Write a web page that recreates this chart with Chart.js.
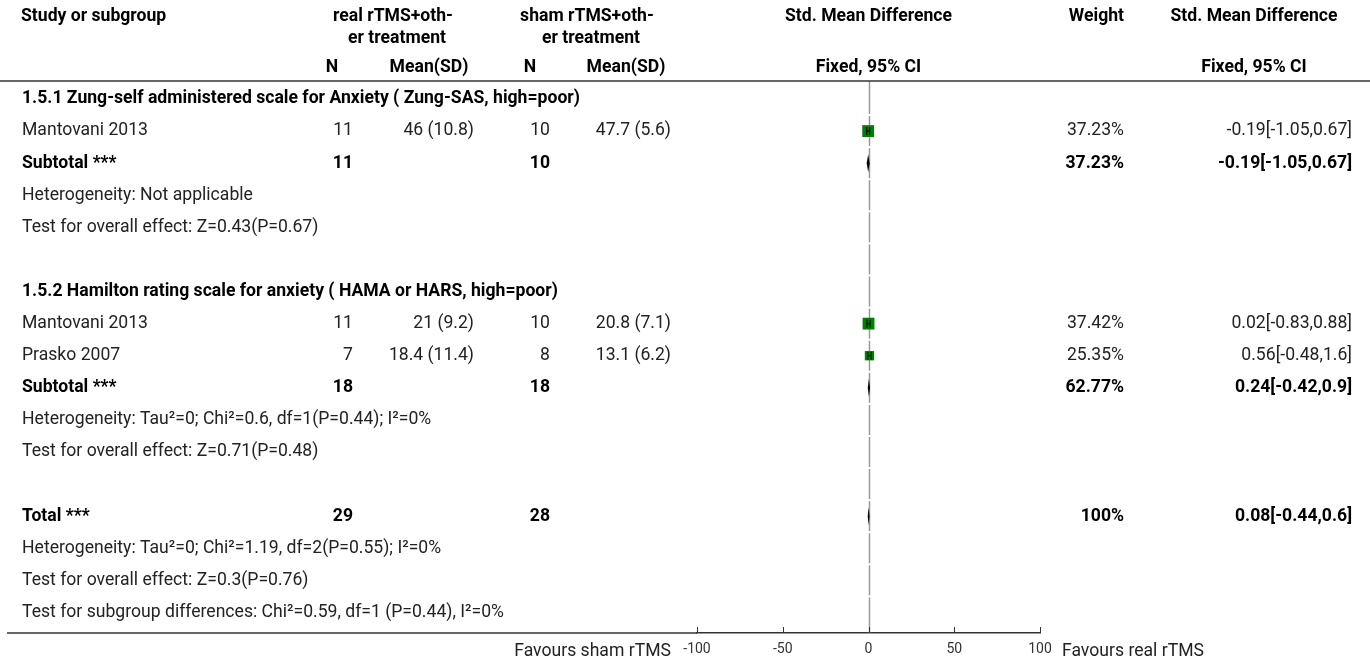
<!DOCTYPE html>
<html>
<head>
<meta charset="utf-8">
<script src="https://cdn.jsdelivr.net/npm/chart.js@4/dist/chart.umd.min.js"></script>
<style>
  html, body { margin: 0; padding: 0; background: #fff; }
  #forest { display: block; }
</style>
</head>
<body>
<canvas id="forest" width="1370" height="664"></canvas>
<script>
// 表格每一列 (row order, top to bottom)
var rowLabels = [
  "1.5.1 Zung-self administered scale for Anxiety ( Zung-SAS, high=poor)",
  "Mantovani 2013",
  "Subtotal ***",
  "Heterogeneity: Not applicable",
  "Test for overall effect: Z=0.43(P=0.67)",
  "",
  "1.5.2 Hamilton rating scale for anxiety ( HAMA or HARS, high=poor)",
  "Mantovani 2013",
  "Prasko 2007",
  "Subtotal ***",
  "Heterogeneity: Tau\u00b2=0; Chi\u00b2=0.6, df=1(P=0.44); I\u00b2=0%",
  "Test for overall effect: Z=0.71(P=0.48)",
  "",
  "Total ***",
  "Heterogeneity: Tau\u00b2=0; Chi\u00b2=1.19, df=2(P=0.55); I\u00b2=0%",
  "Test for overall effect: Z=0.3(P=0.76)",
  "Test for subgroup differences: Chi\u00b2=0.59, df=1 (P=0.44), I\u00b2=0%"
];
var rowKinds = ["group", "study", "sub", "note", "note", "blank",
  "group", "study", "study", "sub", "note", "note", "blank",
  "sub", "note", "note", "note"];

var nReal    = [null, 11, 11, null, null, null, null, 11, 7, 18, null, null, null, 29, null, null, null];
var meanReal = [null, 46, null, null, null, null, null, 21, 18.4, null, null, null, null, null, null, null, null];
var sdReal   = [null, 10.8, null, null, null, null, null, 9.2, 11.4, null, null, null, null, null, null, null, null];
var nSham    = [null, 10, 10, null, null, null, null, 10, 8, 18, null, null, null, 28, null, null, null];
var meanSham = [null, 47.7, null, null, null, null, null, 20.8, 13.1, null, null, null, null, null, null, null, null];
var sdSham   = [null, 5.6, null, null, null, null, null, 7.1, 6.2, null, null, null, null, null, null, null, null];
var weights  = [null, 37.23, 37.23, null, null, null, null, 37.42, 25.35, 62.77, null, null, null, 100, null, null, null];
var smd      = [null, -0.19, -0.19, null, null, null, null, 0.02, 0.56, 0.24, null, null, null, 0.08, null, null, null];
var ciLow    = [null, -1.05, -1.05, null, null, null, null, -0.83, -0.48, -0.42, null, null, null, -0.44, null, null, null];
var ciHigh   = [null, 0.67, 0.67, null, null, null, null, 0.88, 1.6, 0.9, null, null, null, 0.6, null, null, null];

var xTicks = [-100, -50, 0, 50, 100];

var FONT = "Roboto";
var SIZE = 17.6;
var studyPoints = [];
rowKinds.forEach(function (k, i) {
  if (k === "study") studyPoints.push({ x: smd[i], y: i, w: weights[i] });
});

function txt(ctx, s, x, y, align, bold) {
  ctx.font = (bold ? "bold " : "") + SIZE + "px " + FONT;
  ctx.textAlign = align;
  ctx.textBaseline = "middle";
  ctx.fillStyle = bold ? "#000" : "#222";
  ctx.fillText(s, x, y);
}

var forestPlugin = {
  id: "forest",
  beforeDatasetsDraw: function (chart) {
    var ctx = chart.ctx, xs = chart.scales.x, ys = chart.scales.y, a = chart.chartArea;
    var x0 = Math.round(xs.getPixelForValue(0)) + 0.5;
    ctx.save();
    ctx.strokeStyle = "#9a9a9a";
    ctx.lineWidth = 1.5;
    for (var i = 0; i < rowLabels.length; i++) {
      var t = i === 0 ? a.top : ys.getPixelForValue(i - 0.5) + 1;
      var b = i === rowLabels.length - 1 ? a.bottom : ys.getPixelForValue(i + 0.5) - 1;
      ctx.beginPath(); ctx.moveTo(x0, t); ctx.lineTo(x0, b); ctx.stroke();
    }
    ctx.restore();
  },
  afterDatasetsDraw: function (chart) {
    var ctx = chart.ctx, xs = chart.scales.x, ys = chart.scales.y;
    ctx.save();
    rowKinds.forEach(function (k, i) {
      var y = ys.getPixelForValue(i);
      var lo = xs.getPixelForValue(ciLow[i]), hi = xs.getPixelForValue(ciHigh[i]);
      if (k === "study") {
        ctx.strokeStyle = "#000";
        ctx.lineWidth = 1.2;
        ctx.beginPath();
        ctx.moveTo(lo, y); ctx.lineTo(hi, y);
        ctx.moveTo(lo, y - 4); ctx.lineTo(lo, y + 4);
        ctx.moveTo(hi, y - 4); ctx.lineTo(hi, y + 4);
        ctx.stroke();
      } else if (k === "sub") {
        var c = xs.getPixelForValue(smd[i]);
        ctx.fillStyle = "#000";
        ctx.beginPath();
        ctx.moveTo(lo, y); ctx.lineTo(c, y - 9); ctx.lineTo(hi, y); ctx.lineTo(c, y + 9);
        ctx.closePath(); ctx.fill();
      }
    });
    ctx.restore();
  },
  afterDraw: function (chart) {
    var ctx = chart.ctx, xs = chart.scales.x, ys = chart.scales.y, a = chart.chartArea;
    ctx.save();
    // rules
    ctx.strokeStyle = "#333";
    ctx.lineWidth = 1.5;
    ctx.beginPath(); ctx.moveTo(0, a.top); ctx.lineTo(1370, a.top); ctx.stroke();
    ctx.beginPath(); ctx.moveTo(7, a.bottom); ctx.lineTo(a.left, a.bottom); ctx.stroke();
    // tick marks pointing up
    ctx.lineWidth = 1;
    xTicks.forEach(function (v) {
      var px = Math.round(xs.getPixelForValue(v)) + 0.5;
      ctx.beginPath(); ctx.moveTo(px, a.bottom); ctx.lineTo(px, a.bottom - 6); ctx.stroke();
    });

    // header
    var mid = xs.getPixelForValue(0);
    txt(ctx, "Study or subgroup", 21, 17, "left", true);
    txt(ctx, "real rTMS+oth-", 393, 17, "center", true);
    txt(ctx, "er treatment", 397, 39, "center", true);
    txt(ctx, "sham rTMS+oth-", 587, 17, "center", true);
    txt(ctx, "er treatment", 591, 39, "center", true);
    txt(ctx, "N", 332, 68, "center", true);
    txt(ctx, "Mean(SD)", 429, 68, "center", true);
    txt(ctx, "N", 530, 68, "center", true);
    txt(ctx, "Mean(SD)", 626, 68, "center", true);
    txt(ctx, "Std. Mean Difference", mid, 17, "center", true);
    txt(ctx, "Fixed, 95% CI", mid, 68, "center", true);
    txt(ctx, "Weight", 1124, 17, "right", true);
    txt(ctx, "Std. Mean Difference", 1254, 17, "center", true);
    txt(ctx, "Fixed, 95% CI", 1254, 68, "center", true);

    // rows
    rowKinds.forEach(function (k, i) {
      var y = ys.getPixelForValue(i);
      var bold = k === "group" || k === "sub";
      if (rowLabels[i]) txt(ctx, rowLabels[i], 22, y, "left", bold);
      if (nReal[i] != null) txt(ctx, String(nReal[i]), 353, y, "right", bold);
      if (meanReal[i] != null) txt(ctx, meanReal[i] + " (" + sdReal[i] + ")", 474, y, "right", bold);
      if (nSham[i] != null) txt(ctx, String(nSham[i]), 550, y, "right", bold);
      if (meanSham[i] != null) txt(ctx, meanSham[i] + " (" + sdSham[i] + ")", 671, y, "right", bold);
      if (weights[i] != null) txt(ctx, weights[i] + "%", 1124, y, "right", bold);
      if (smd[i] != null) txt(ctx, smd[i] + "[" + ciLow[i] + "," + ciHigh[i] + "]", 1352, y, "right", bold);
    });

    // favours labels
    txt(ctx, "Favours sham rTMS", 671, 652, "right", false);
    txt(ctx, "Favours real rTMS", 1062, 652, "left", false);
    ctx.restore();
  }
};

new Chart(document.getElementById("forest").getContext("2d"), {
  type: "scatter",
  data: {
    datasets: [
      {
        data: studyPoints,
        pointStyle: "rect",
        backgroundColor: "#008000",
        borderWidth: 0,
        pointRadius: function (c) {
          return c.raw ? (4 + 0.21 * c.raw.w) / Math.SQRT2 : 0;
        },
        pointHoverRadius: function (c) {
          return c.raw ? (4 + 0.21 * c.raw.w) / Math.SQRT2 : 0;
        },
      },
    ],
  },
  options: {
    responsive: false,
    animation: false,
    devicePixelRatio: 1,
    layout: { padding: { left: 697, right: 330, top: 81, bottom: 0 } },
    plugins: { legend: { display: false }, tooltip: { enabled: false } },
    scales: {
      x: {
        type: "linear",
        position: "bottom",
        min: -100,
        max: 100,
        afterBuildTicks: function (s) {
          s.ticks = xTicks.map(function (v) { return { value: v }; });
        },
        afterFit: function (s) { s.height = 31; },
        grid: { display: false, drawTicks: false },
        border: { display: true, color: "#333", width: 1.5 },
        ticks: { padding: 8, color: "#333", font: { family: FONT, size: 14 } },
      },
      y: {
        type: "linear",
        display: false,
        reverse: true,
        min: -0.56,
        max: 16.64,
      },
    },
  },
  plugins: [forestPlugin],
});
</script>
</body>
</html>
